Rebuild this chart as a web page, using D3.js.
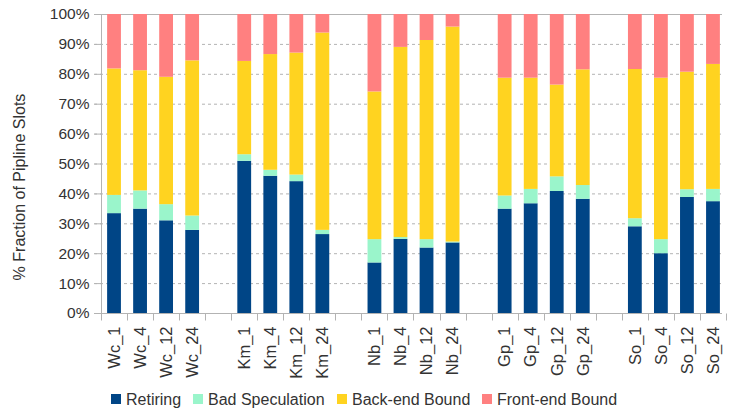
<!DOCTYPE html>
<html><head><meta charset="utf-8">
<script src="https://cdn.jsdelivr.net/npm/d3@7"></script>
<style>
body{margin:0;background:#fff;}
text{font-family:"Liberation Sans",Arial,sans-serif;fill:#333;}
</style></head>
<body><svg id="c" width="731" height="417"></svg>
<script>
const categories = ["Wc_1","Wc_4","Wc_12","Wc_24","","Km_1","Km_4","Km_12","Km_24","","Nb_1","Nb_4","Nb_12","Nb_24","","Gp_1","Gp_4","Gp_12","Gp_24","","So_1","So_4","So_12","So_24"];
const seriesNames = ["Retiring","Bad Speculation","Back-end Bound","Front-end Bound"];
const retiring  = [33.4,34.9,31.0,27.8,null,50.9,45.9,44.1,26.4,null,16.9,24.8,21.9,23.6,null,34.9,36.7,40.8,38.2,null,29.0,20.0,38.8,37.4];
const badSpec   = [6.1,6.1,5.4,4.8,null,2.2,2.0,2.2,1.4,null,7.8,0.6,2.8,0.3,null,4.4,4.8,4.9,4.6,null,2.7,4.7,2.6,4.1];
const backEnd   = [42.3,40.2,42.6,51.9,null,31.2,38.7,40.8,66.0,null,49.4,63.6,66.6,71.9,null,39.4,37.2,30.7,38.7,null,49.9,54.0,39.3,41.8];
const frontEnd  = [18.2,18.8,21.0,15.5,null,15.7,13.4,12.9,6.2,null,25.9,11.0,8.7,4.2,null,21.3,21.3,23.6,18.5,null,18.4,21.3,19.3,16.7];
const yTicks = [0,10,20,30,40,50,60,70,80,90,100];
const colors = ["#004586","#9af5cb","#ffd320","#ff8080"];

const svg = d3.select("#c");
const m = {left:101, right:5, top:14, bottom:104};
const W = 731, H = 417;
const slots = categories.map((c,i)=>"s"+i);
const x = d3.scaleBand().domain(slots).range([m.left, W-m.right]).paddingInner(0.47).paddingOuter(0.235);
const y = d3.scaleLinear().domain([0,100]).range([H-m.bottom, m.top]);
const step = x.step();
const x0 = x(slots[0]) - x.paddingOuter()*step;

// gridlines
svg.append("g").selectAll("line").data(yTicks.filter(t=>t>0)).join("line")
  .attr("x1", m.left-7).attr("x2", W-m.right-4)
  .attr("y1", d=>y(d)+0.5).attr("y2", d=>y(d)+0.5)
  .attr("stroke","#b3b3b3").attr("stroke-width",1)
  .attr("stroke-dasharray", d=>d===100? null : "3,3");

// stacked data
const rows = categories.map((c,i)=>({key:slots[i], v:[retiring[i],badSpec[i],backEnd[i],frontEnd[i]]})).filter(r=>r.v[0]!==null);
const stack = d3.stack().keys([0,1,2,3]).value((d,k)=>d.v[k]);
const stacked = stack(rows);
svg.append("g").selectAll("g").data(stacked).join("g")
  .attr("fill",(d,i)=>colors[i])
  .selectAll("rect").data(d=>d).join("rect")
  .attr("x", d=>x(d.data.key)).attr("width", x.bandwidth())
  .attr("y", d=>y(d[1])).attr("height", d=>y(d[0])-y(d[1]));

// y axis
const yAxis = d3.axisLeft(y).tickValues(yTicks).tickFormat(d=>d+"%").tickSize(7).tickPadding(5);
const gy = svg.append("g").attr("transform",`translate(${m.left+0.5},0)`).call(yAxis);
gy.select(".domain").attr("stroke","#b3b3b3").attr("d",`M0,${y(0)}V${y(100)}`);
gy.selectAll(".tick line").attr("stroke","#b3b3b3");
gy.selectAll(".tick text").style("font-size","15.5px").attr("fill","#333");

// x axis
const xAxis = d3.axisBottom(x).tickSize(0).tickPadding(0).tickFormat((d,i)=>categories[i]);
const gx = svg.append("g").attr("transform",`translate(0,${y(0)+0.5})`).call(xAxis);
gx.select(".domain").attr("stroke","#b3b3b3").attr("d",`M${m.left-7},0H${W-m.right-4}`);
gx.selectAll(".tick text").style("font-size","16.5px").attr("fill","#333")
  .attr("text-anchor","end").attr("transform","rotate(-90)")
  .attr("x",-13).attr("y",0).attr("dy","0.35em");
// boundary ticks
const bounds = d3.range(slots.length+1).map(i=>x0+i*step);
gx.append("g").selectAll("line").data(bounds).join("line")
  .attr("x1",d=>Math.round(d)+0.5).attr("x2",d=>Math.round(d)+0.5)
  .attr("y1",0).attr("y2",7).attr("stroke","#b3b3b3");

// y axis title
svg.append("text").attr("transform",`translate(25,187) rotate(-90)`)
  .attr("text-anchor","middle").style("font-size","16px").attr("fill","#333")
  .text("% Fraction of Pipline Slots");

// legend
const legX = [111,193,337,482];
const lg = svg.append("g").selectAll("g").data(seriesNames).join("g")
  .attr("transform",(d,i)=>`translate(${legX[i]},394)`);
lg.append("rect").attr("width",10).attr("height",10).attr("fill",(d,i)=>colors[i]);
lg.append("text").attr("x",15).attr("y",5).attr("dy","0.35em").style("font-size","16px").attr("fill","#333").text(d=>d);
</script></body></html>
